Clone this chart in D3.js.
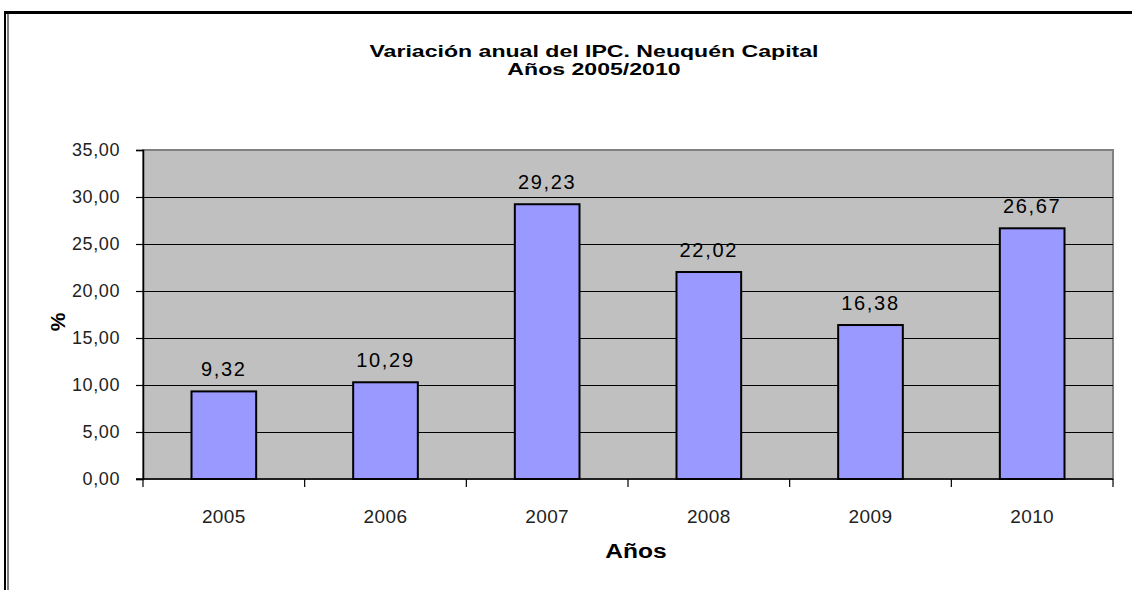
<!DOCTYPE html>
<html>
<head>
<meta charset="utf-8">
<script src="https://cdn.jsdelivr.net/npm/d3@7"></script>
<style>
  body { margin: 0; background: #fff; }
  svg { display: block; font-family: "Liberation Sans", Arial, sans-serif; }
</style>
</head>
<body>
<div id="graph"></div>
<script>
const years = ["2005", "2006", "2007", "2008", "2009", "2010"]
const ipc = [9.32, 10.29, 29.23, 22.02, 16.38, 26.67]
const yTicks = [0, 5, 10, 15, 20, 25, 30, 35]
const titleLines = ["Variación anual del IPC. Neuquén Capital", "Años 2005/2010"]
const xLabel = "Años"
const yLabel = "%"

const width = 1132
const height = 590
const plot = {left: 143, right: 1113, top: 150, bottom: 479}

const fmt = d3.formatLocale({decimal: ",", thousands: ".", grouping: [3], currency: ["$", ""]}).format(".2f")

const svg = d3.select("#graph")
    .append("svg")
    .attr("width", width)
    .attr("height", height)

// outer frame: heavy top rule, double rule on the left
svg.append("line")
    .attr("x1", 4).attr("x2", width)
    .attr("y1", 12.5).attr("y2", 12.5)
    .attr("stroke", "#000").attr("stroke-width", 3)
svg.append("line")
    .attr("x1", 5).attr("x2", 5)
    .attr("y1", 11).attr("y2", height)
    .attr("stroke", "#000").attr("stroke-width", 2)
svg.append("line")
    .attr("x1", 8).attr("x2", 8)
    .attr("y1", 14).attr("y2", height)
    .attr("stroke", "#000").attr("stroke-width", 1)

const xScale = d3.scaleBand()
    .domain(years)
    .range([plot.left, plot.right])
    .padding(0)

const yScale = d3.scaleLinear()
    .domain([0, 35])
    .range([plot.bottom, plot.top])

// plot area
svg.append("rect")
    .attr("x", plot.left)
    .attr("y", plot.top)
    .attr("width", plot.right - plot.left)
    .attr("height", plot.bottom - plot.top)
    .attr("fill", "#c0c0c0")
    .attr("stroke", "#808080")
    .attr("stroke-width", 2)

svg.append("g")
    .selectAll("line")
    .data(yTicks.filter(t => t > 0 && t < 35))
    .join("line")
    .attr("x1", plot.left).attr("x2", plot.right)
    .attr("y1", d => yScale(d) + 0.5).attr("y2", d => yScale(d) + 0.5)
    .attr("stroke", "#000")
    .attr("stroke-width", 1.2)

const barW = xScale.bandwidth() * 0.4

svg.append("g")
    .selectAll("rect")
    .data(ipc)
    .join("rect")
    .attr("x", (d, i) => xScale(years[i]) + (xScale.bandwidth() - barW) / 2)
    .attr("y", d => yScale(d))
    .attr("width", barW)
    .attr("height", d => plot.bottom - yScale(d))
    .attr("fill", "#9999ff")
    .attr("stroke", "#000")
    .attr("stroke-width", 2)

svg.append("g")
    .selectAll("text")
    .data(ipc)
    .join("text")
    .attr("x", (d, i) => xScale(years[i]) + xScale.bandwidth() / 2)
    .attr("y", d => yScale(d) - 15)
    .attr("text-anchor", "middle")
    .attr("font-size", 20)
    .attr("letter-spacing", 1.7)
    .attr("fill", "#000")
    .text(d => fmt(d))

// y axis
const yAxis = svg.append("g")
    .attr("transform", `translate(${plot.left}, 0)`)
    .call(d3.axisLeft(yScale).tickValues(yTicks).tickSize(7).tickPadding(16).tickFormat(fmt))
yAxis.select(".domain").attr("stroke", "#000").attr("stroke-width", 1.5)
yAxis.selectAll(".tick line").attr("stroke", "#000").attr("stroke-width", 1.2)
yAxis.selectAll("text")
    .attr("font-size", 18)
    .attr("letter-spacing", 0.6)
    .attr("fill", "#222")
    .attr("font-family", "Liberation Sans, Arial, sans-serif")

// x axis: ticks sit between categories
const xAxis = svg.append("g")
    .attr("transform", `translate(0, ${plot.bottom})`)
xAxis.append("line")
    .attr("x1", plot.left - 7).attr("x2", plot.right)
    .attr("y1", 0).attr("y2", 0)
    .attr("stroke", "#000").attr("stroke-width", 1.5)
xAxis.selectAll("line.tick")
    .data(years.concat(["end"]))
    .join("line")
    .attr("class", "tick")
    .attr("x1", (d, i) => i < years.length ? xScale(d) : plot.right)
    .attr("x2", (d, i) => i < years.length ? xScale(d) : plot.right)
    .attr("y1", 0).attr("y2", 8)
    .attr("stroke", "#000").attr("stroke-width", 1.2)
xAxis.selectAll("text")
    .data(years)
    .join("text")
    .attr("x", d => xScale(d) + xScale.bandwidth() / 2)
    .attr("y", 44)
    .attr("text-anchor", "middle")
    .attr("font-size", 19)
    .attr("letter-spacing", 0.4)
    .attr("fill", "#222")
    .text(d => d)

// titles (the source lettering is stretched sideways)
svg.append("g")
    .selectAll("text")
    .data(titleLines)
    .join("text")
    .attr("transform", (d, i) => `translate(594, ${57 + i * 18}) scale(1.4, 1)`)
    .attr("text-anchor", "middle")
    .attr("font-size", 16.5)
    .attr("font-weight", "bold")
    .attr("fill", "#000")
    .text(d => d)

svg.append("text")
    .attr("transform", `translate(${(plot.left + plot.right) / 2 + 8}, 558) scale(1.17, 1)`)
    .attr("text-anchor", "middle")
    .attr("font-size", 21)
    .attr("font-weight", "bold")
    .attr("fill", "#000")
    .text(xLabel)

svg.append("text")
    .attr("transform", "translate(57, 322) rotate(-90)")
    .attr("text-anchor", "middle")
    .attr("dominant-baseline", "central")
    .attr("font-size", 21)
    .attr("font-weight", "bold")
    .attr("fill", "#000")
    .text(yLabel)
</script>
</body>
</html>
